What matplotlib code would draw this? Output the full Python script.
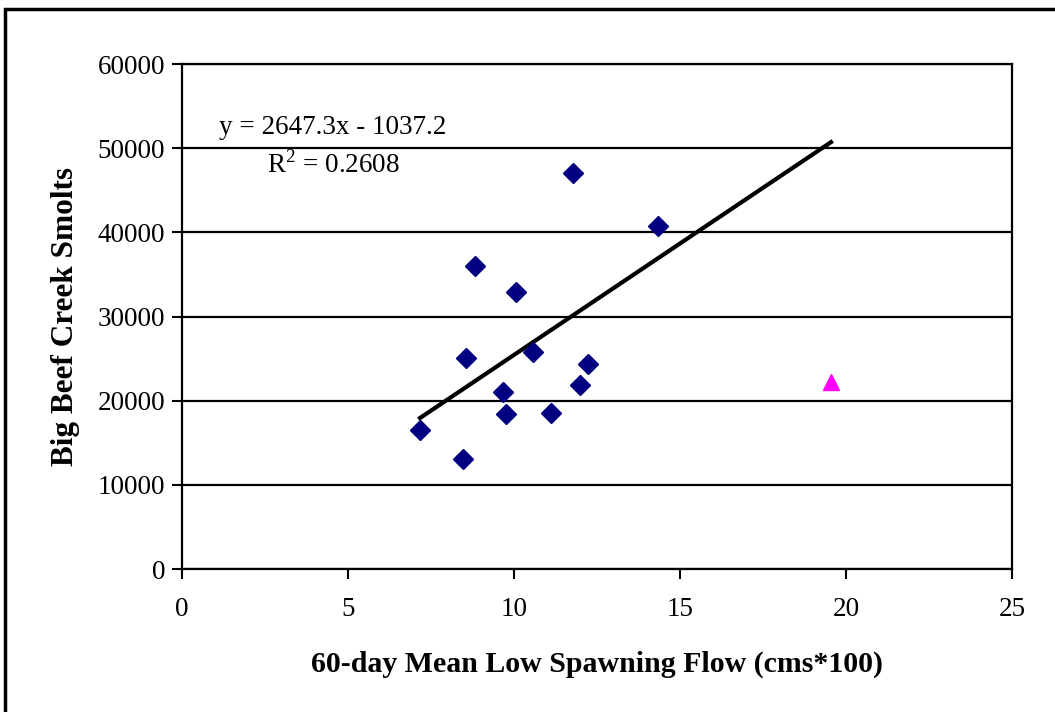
import numpy as np
import matplotlib
matplotlib.use("Agg")
import matplotlib.pyplot as plt
from matplotlib.patches import Rectangle

plt.rcParams['font.family'] = ['Liberation Serif', 'DejaVu Serif']
plt.rcParams['mathtext.fontset'] = 'custom'
plt.rcParams['mathtext.rm'] = 'Liberation Serif'

# smolts vs flow
flow = [7.17, 8.46, 8.55, 8.83, 9.67, 9.76, 10.06, 10.57, 11.11, 11.78, 11.99, 12.23, 14.34]
smolts = [16500, 13050, 25050, 36000, 21000, 18400, 32900, 25800, 18550, 47050, 21850, 24350, 40800]
# separate year shown with a triangle
flow_out = [19.55]
smolts_out = [22200]
# trendline from the chart
slope, intercept = 2647.3, -1037.2

fig = plt.figure(figsize=(10.55, 7.12), dpi=100)
ax = fig.add_axes([0.1725, 0.2008, 0.7867, 0.7093])

ax.set_xlim(0, 25)
ax.set_ylim(0, 60000)
ax.set_xticks([0, 5, 10, 15, 20, 25])
ax.set_yticks(np.arange(0, 60001, 10000))
ax.yaxis.grid(True, color='black', lw=1.6)
ax.set_axisbelow(True)
for s in ax.spines.values():
    s.set_color('black')
    s.set_linewidth(1.6)
ax.tick_params(direction='out', length=7, width=1.5, labelsize=19.5)
ax.tick_params(axis='x', pad=13)
ax.tick_params(axis='y', pad=5)

tx = np.array([min(flow), flow_out[0]])
ax.plot(tx, slope * tx + intercept, color='black', lw=3, zorder=3)
ax.plot(flow, smolts, 'D', color='#000080', markersize=10, zorder=4, clip_on=False)
ax.plot(flow_out, smolts_out, '^', color='#FF00FF', markersize=11.5, zorder=4)

ax.text(4.55, 52400, 'y = 2647.3x - 1037.2', fontsize=19.5, ha='center', va='center')
ax.text(4.55, 48000, 'R$^{\\mathregular{2}}$ = 0.2608', fontsize=19.5, ha='center', va='center')

ax.set_xlabel('60-day Mean Low Spawning Flow (cms*100)', fontsize=21.5, fontweight='bold', labelpad=21)
ax.set_ylabel('Big Beef Creek Smolts', fontsize=22.5, fontweight='bold', labelpad=13)

fig.patches.append(Rectangle((0.0045, -0.1), 1.2, 1.087, transform=fig.transFigure,
                             fill=False, edgecolor='black', lw=2.5))

fig.savefig('out.png', dpi=100)
